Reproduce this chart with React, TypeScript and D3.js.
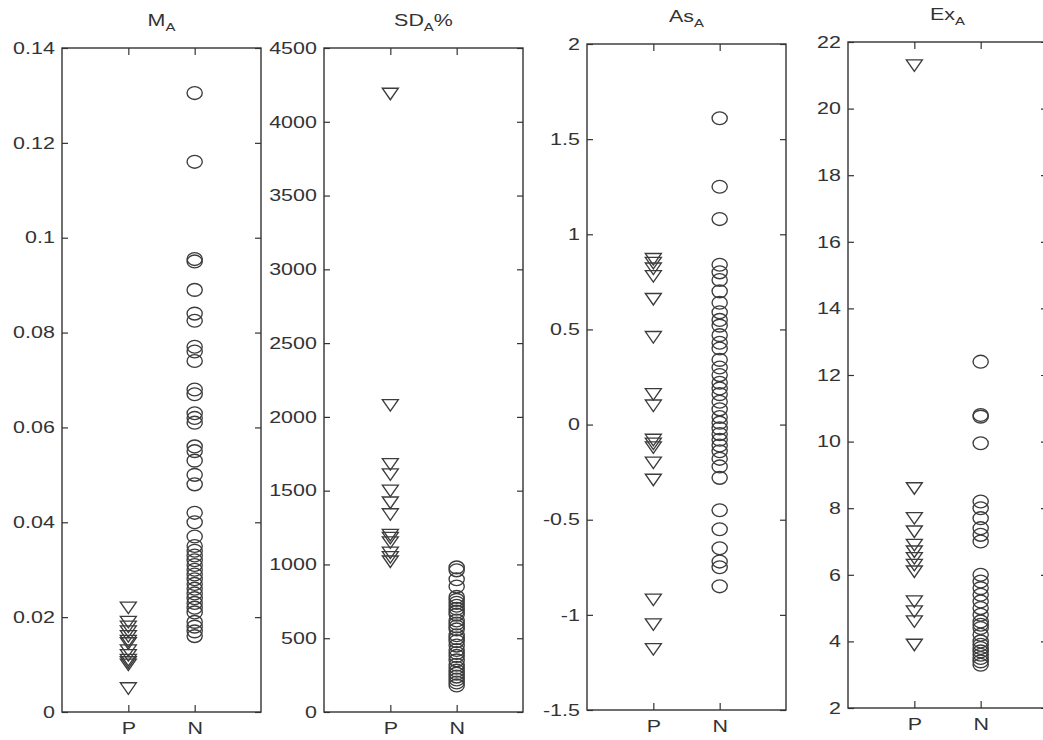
import React, { useEffect, useRef } from 'react';
import * as d3 from 'd3';

// values (P = triangles, N = circles)
const maP = [0.022, 0.019, 0.018, 0.017, 0.016, 0.015, 0.0145, 0.013, 0.012, 0.011, 0.0105, 0.010, 0.005];
const maN = [0.1305, 0.116, 0.0955, 0.095, 0.089, 0.084, 0.0825, 0.077, 0.076, 0.074, 0.068, 0.067,
  0.063, 0.062, 0.061, 0.056, 0.055, 0.053, 0.050, 0.048, 0.042, 0.040, 0.037, 0.035, 0.034, 0.033,
  0.032, 0.031, 0.030, 0.029, 0.028, 0.027, 0.026, 0.025, 0.024, 0.023, 0.022, 0.021, 0.019, 0.018,
  0.017, 0.016];
const sdP = [4190, 2080, 1680, 1610, 1500, 1420, 1340, 1200, 1180, 1150, 1080, 1050, 1020];
const sdN = [980, 960, 900, 850, 780, 760, 740, 720, 700, 680, 660, 620, 600, 580, 560, 520, 500, 480,
  450, 420, 400, 380, 350, 320, 300, 280, 260, 240, 220, 200, 180];
const asP = [0.87, 0.85, 0.82, 0.78, 0.66, 0.46, 0.16, 0.10, -0.08, -0.10, -0.12, -0.20, -0.29, -0.92, -1.05, -1.18];
const asN = [1.61, 1.25, 1.08, 0.84, 0.80, 0.76, 0.70, 0.64, 0.59, 0.55, 0.52, 0.47, 0.43, 0.40, 0.34, 0.30,
  0.26, 0.22, 0.19, 0.16, 0.12, 0.08, 0.04, 0.01, -0.02, -0.05, -0.08, -0.11, -0.14, -0.18, -0.22, -0.28,
  -0.45, -0.55, -0.65, -0.72, -0.75, -0.85];
const exP = [21.3, 8.6, 7.7, 7.3, 6.9, 6.7, 6.5, 6.3, 6.1, 5.2, 4.9, 4.6, 3.9];
const exN = [12.4, 10.8, 10.75, 9.95, 8.2, 8.0, 7.7, 7.4, 7.2, 7.0, 6.0, 5.8, 5.6, 5.4, 5.2, 5.0, 4.8, 4.6,
  4.5, 4.4, 4.2, 4.0, 3.9, 3.8, 3.7, 3.6, 3.5, 3.4, 3.3];

const maTicks = [0, 0.02, 0.04, 0.06, 0.08, 0.1, 0.12, 0.14];
const sdTicks = [0, 500, 1000, 1500, 2000, 2500, 3000, 3500, 4000, 4500];
const asTicks = [-1.5, -1, -0.5, 0, 0.5, 1, 1.5, 2];
const exTicks = [2, 4, 6, 8, 10, 12, 14, 16, 18, 20, 22];

const titles = ['M', 'SD', 'As', 'Ex'];
const groups = ['P', 'N'];

const panels = [
  { title: titles[0], suffix: '', P: maP, N: maN, ticks: maTicks },
  { title: titles[1], suffix: '%', P: sdP, N: sdN, ticks: sdTicks },
  { title: titles[2], suffix: '', P: asP, N: asN, ticks: asTicks },
  { title: titles[3], suffix: '', P: exP, N: exN, ticks: exTicks },
];

// layout
const lefts = [62, 324, 587, 848];
const tops = [48, 48, 44, 42];
const bottoms = [712, 712, 710, 708];
const panelW = 199;
const ink = '#333';
const font = "'Liberation Sans', Arial, sans-serif";
const stretch = 'scale(1.3,1)';

export default function App() {
  const ref = useRef<SVGSVGElement>(null);

  useEffect(() => {
    const svg = d3.select(ref.current);
    svg.selectAll('*').remove();
    svg.append('rect').attr('width', 1043).attr('height', 740).attr('fill', '#fff');

    panels.forEach((p, i) => {
      const left = lefts[i], right = left + panelW, top = tops[i], bottom = bottoms[i];
      const y = d3.scaleLinear().domain(d3.extent(p.ticks) as [number, number]).range([bottom, top]);
      const x = d3.scaleLinear().domain([0, 3]).range([left, right]);
      const g = svg.append('g');

      const style = (sel: any) => {
        sel.select('.domain').remove();
        sel.selectAll('line').attr('stroke', ink).attr('stroke-width', 1.2);
        sel.selectAll('text').attr('fill', ink).attr('font-size', 16.5).attr('font-family', font)
          .attr('transform', stretch);
      };

      g.append('g').attr('transform', `translate(${left},0)`)
        .call(d3.axisLeft(y).tickValues(p.ticks).tickSizeInner(-6).tickSizeOuter(0).tickPadding(5.5)
          .tickFormat((d: any) => String(d)))
        .call(style);
      g.append('g').attr('transform', `translate(${right},0)`)
        .call(d3.axisRight(y).tickValues(p.ticks).tickSizeInner(-6).tickSizeOuter(0).tickFormat(() => ''))
        .call(style);
      g.append('g').attr('transform', `translate(0,${bottom})`)
        .call(d3.axisBottom(x).tickValues([1, 2]).tickSizeInner(-7).tickSizeOuter(0).tickPadding(10)
          .tickFormat((d: any) => groups[d - 1]))
        .call(style);
      g.append('g').attr('transform', `translate(0,${top})`)
        .call(d3.axisTop(x).tickValues([1, 2]).tickSizeInner(-7).tickSizeOuter(0).tickFormat(() => ''))
        .call(style);

      g.append('rect').attr('x', left).attr('y', top).attr('width', panelW).attr('height', bottom - top)
        .attr('fill', 'none').attr('stroke', ink).attr('stroke-width', 1.4);

      // title with subscript A
      const t = g.append('text')
        .attr('transform', `translate(${(left + right) / 2},${top - 22}) ${stretch}`)
        .attr('text-anchor', 'middle').attr('font-family', font).attr('font-size', 16.5).attr('fill', ink);
      t.append('tspan').text(p.title);
      t.append('tspan').attr('font-size', 11.5).attr('dy', 5).text('A');
      if (p.suffix) t.append('tspan').attr('dy', -5).text(p.suffix);

      g.selectAll('.tri').data(p.P).join('path').attr('class', 'tri')
        .attr('d', 'M-8,-5.5L8,-5.5L0,6Z')
        .attr('transform', d => `translate(${x(1)},${y(d)})`)
        .attr('fill', 'none').attr('stroke', '#3c3c3c').attr('stroke-width', 1.35);

      g.selectAll('.circ').data(p.N).join('ellipse').attr('class', 'circ')
        .attr('cx', x(2)).attr('cy', d => y(d)).attr('rx', 7.6).attr('ry', 6.4)
        .attr('fill', 'none').attr('stroke', '#3c3c3c').attr('stroke-width', 1.35);
    });
  }, []);

  return (
    <svg ref={ref} width={1043} height={740}
      style={{ position: 'absolute', left: 0, top: 0, display: 'block' }} />
  );
}
